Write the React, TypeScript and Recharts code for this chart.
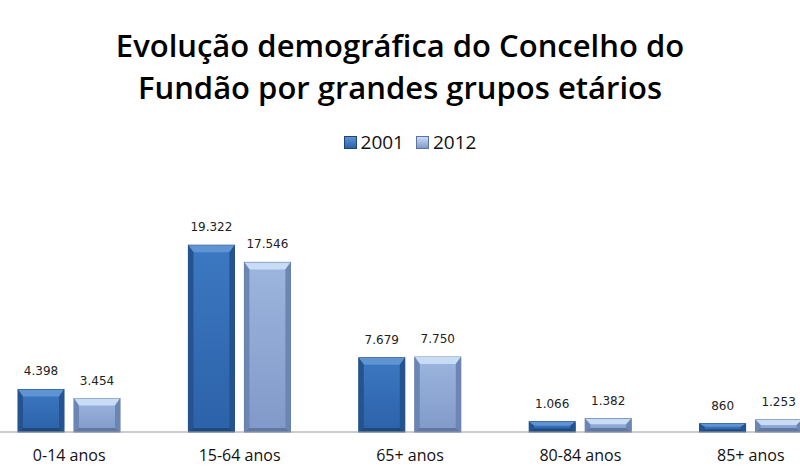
import { BarChart, Bar, XAxis, YAxis, LabelList } from 'recharts';

const categories = ['0-14 anos', '15-64 anos', '65+ anos', '80-84 anos', '85+ anos'];
const values2001 = [4398, 19322, 7679, 1066, 860];
const values2012 = [3454, 17546, 7750, 1382, 1253];

const data = categories.map((c, i) => ({ name: c, y2001: values2001[i], y2012: values2012[i] }));

const fmt = (v: number) => v.toLocaleString('de-DE');

interface Palette {
  face1: string;
  face2: string;
  top: string;
  side: string;
  bottom: string;
  edge: string;
}

const DARK: Palette = {
  face1: '#3C78C2',
  face2: '#2C62A8',
  top: '#5F93D2',
  side: '#24548F',
  bottom: '#1E4A80',
  edge: '#1C467A'
};

const LIGHT: Palette = {
  face1: '#9DB6DF',
  face2: '#8099C8',
  top: '#C9DCF6',
  side: '#6C86B4',
  bottom: '#5F78A6',
  edge: '#5A73A0'
};

function makeShape(p: Palette, id: string) {
  return (props: any) => {
    const { x, y, width: w, height: h } = props;
    if (!h || h <= 0) return null;
    const b = Math.min(7, h / 2 - 1, w / 4);
    const bs = Math.min(5, w / 4);
    const bb = Math.min(4, h / 3);
    return (
      <g>
        <defs>
          <linearGradient id={id} x1="0" y1="0" x2="0" y2="1">
            <stop offset="0" stopColor={p.face1} />
            <stop offset="1" stopColor={p.face2} />
          </linearGradient>
        </defs>
        <rect x={x} y={y} width={w} height={h} fill={`url(#${id})`} stroke={p.edge} strokeWidth={1} />
        <polygon points={`${x},${y} ${x + w},${y} ${x + w - bs},${y + b} ${x + bs},${y + b}`} fill={p.top} />
        <polygon points={`${x},${y} ${x + bs},${y + b} ${x + bs},${y + h - bb} ${x},${y + h}`} fill={p.side} />
        <polygon points={`${x + w},${y} ${x + w - bs},${y + b} ${x + w - bs},${y + h - bb} ${x + w},${y + h}`} fill={p.side} />
        <polygon points={`${x},${y + h} ${x + bs},${y + h - bb} ${x + w - bs},${y + h - bb} ${x + w},${y + h}`} fill={p.bottom} />
      </g>
    );
  };
}

const Shape2001 = makeShape(DARK, 'g2001');
const Shape2012 = makeShape(LIGHT, 'g2012');

const legendItems = [
  { label: '2001', c: DARK },
  { label: '2012', c: LIGHT }
];

export default function App() {
  return (
    <div style={{ position: 'fixed', left: 0, top: 0, width: 800, height: 468, overflow: 'hidden', background: '#fff' }}>
      <div
        style={{
          position: 'absolute',
          top: 24,
          left: 0,
          width: 800,
          textAlign: 'center',
          fontFamily: 'Open Sans, sans-serif',
          fontWeight: 600,
          fontSize: 31,
          lineHeight: '42px',
          color: '#000'
        }}
      >
        Evolução demográfica do Concelho do
        <br />
        Fundão por grandes grupos etários
      </div>
      <div
        style={{
          position: 'absolute',
          top: 129,
          left: 10,
          width: 800,
          display: 'flex',
          justifyContent: 'center',
          gap: 12,
          fontFamily: 'Open Sans, sans-serif',
          fontSize: 19,
          color: '#111'
        }}
      >
        {legendItems.map((it) => (
          <div key={it.label} style={{ display: 'flex', alignItems: 'center', gap: 4 }}>
            <span
              style={{
                display: 'inline-block',
                width: 11,
                height: 11,
                background: `linear-gradient(${it.c.top}, ${it.c.face2})`,
                border: `1px solid ${it.c.edge}`
              }}
            />
            <span>{it.label}</span>
          </div>
        ))}
      </div>
      <div style={{ position: 'absolute', left: -16, top: 0 }}>
        <BarChart
          width={852}
          height={468}
          data={data}
          margin={{ top: 200, right: 0, left: 0, bottom: 6 }}
          barCategoryGap={34}
          barGap={10}
        >
          <XAxis
            dataKey="name"
            height={30}
            tickLine={false}
            axisLine={{ stroke: '#9A9A9A' }}
            tick={{ fill: '#111', fontSize: 16, fontFamily: 'Open Sans, sans-serif' }}
            dy={10}
          />
          <YAxis hide domain={[0, 24000]} />
          <Bar dataKey="y2001" name="2001" shape={<Shape2001 />} isAnimationActive={false}>
            <LabelList dataKey="y2001" position="top" offset={14} formatter={(v: any) => fmt(Number(v))} style={{ fill: '#222', fontSize: 12, fontFamily: 'DejaVu Sans, sans-serif' }} />
          </Bar>
          <Bar dataKey="y2012" name="2012" shape={<Shape2012 />} isAnimationActive={false}>
            <LabelList dataKey="y2012" position="top" offset={14} formatter={(v: any) => fmt(Number(v))} style={{ fill: '#222', fontSize: 12, fontFamily: 'DejaVu Sans, sans-serif' }} />
          </Bar>
        </BarChart>
      </div>
    </div>
  );
}
